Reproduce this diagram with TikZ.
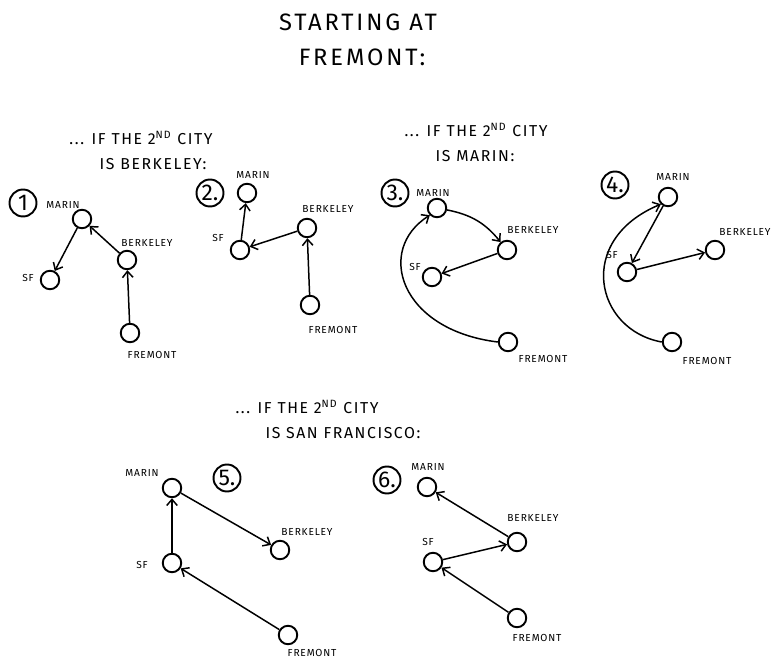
\documentclass[tikz,border=0pt]{standalone}
\usepackage{fontspec}
\setmainfont{Fira Sans}
\usetikzlibrary{arrows.meta}

\begin{document}
\begin{tikzpicture}[x=0.02cm, y=-0.02cm,
  city/.style={draw, circle, line width=1.1pt, minimum size=0.37cm, inner sep=0pt},
  num/.style={draw, circle, line width=1.1pt, minimum size=0.54cm, inner sep=0pt, font=\fontsize{13}{13}\selectfont},
  lab/.style={font=\fontsize{5.8}{6}\selectfont\addfontfeatures{LetterSpace=8}},
  head/.style={font=\fontsize{9}{10}\selectfont\addfontfeatures{LetterSpace=10}},
  title/.style={font=\fontsize{13.5}{14}\selectfont\addfontfeatures{LetterSpace=12}},
  arr/.style={-{Straight Barb[length=3.5pt,width=6pt]}, line width=0.85pt}
]
\useasboundingbox (0,0) rectangle (772,669);

\node[title] (titleA) at (358,22) {STARTING AT};
\node[title] (titleB) at (362,57) {FREMONT:};

% second city berkeley
\node[head] (headAa) at (141,138) {... IF THE 2\textsuperscript{ND} CITY};
\node[head] (headAb) at (153,164) {IS BERKELEY:};

\node[num] (numA) at (23,203) {1};
\node[city] (marinA) at (82,219) {};
\node[city] (berkA) at (127,260) {};
\node[city] (sfA) at (50,280) {};
\node[city] (fremA) at (130,333) {};
\node[lab] (marinAl) at (63,205) {MARIN};
\node[lab] (berkAl) at (147,243) {BERKELEY};
\node[lab] (sfAl) at (28,278) {SF};
\node[lab] (fremAl) at (152,355) {FREMONT};
\draw[arr] (fremA) -- (berkA);
\draw[arr] (berkA) -- (marinA);
\draw[arr] (marinA) -- (sfA);

\node[num] (numB) at (210,193) {2.};
\node[city] (marinB) at (247,193) {};
\node[city] (berkB) at (307,228) {};
\node[city] (sfB) at (240,250) {};
\node[city] (fremB) at (310,305) {};
\node[lab] (marinBl) at (253,175) {MARIN};
\node[lab] (berkBl) at (328,209) {BERKELEY};
\node[lab] (sfBl) at (218,238) {SF};
\node[lab] (fremBl) at (333,330) {FREMONT};
\draw[arr] (fremB) -- (berkB);
\draw[arr] (berkB) -- (sfB);
\draw[arr] (sfB) -- (marinB);

% second city marin
\node[head] (headBa) at (476,130) {... IF THE 2\textsuperscript{ND} CITY};
\node[head] (headBb) at (475,156) {IS MARIN:};

\node[num] (numC) at (395,193) {3.};
\node[city] (marinC) at (437,208) {};
\node[city] (berkC) at (507,250) {};
\node[city] (sfC) at (432,277) {};
\node[city] (fremC) at (508,342) {};
\node[lab] (marinCl) at (433,193) {MARIN};
\node[lab] (berkCl) at (533,230) {BERKELEY};
\node[lab] (sfCl) at (415,267) {SF};
\node[lab] (fremCl) at (543,359) {FREMONT};
\draw[arr] (fremC.west) .. controls (400,330) and (375,250) .. (marinC.south west);
\draw[arr] (marinC) to[bend left=20] (berkC);
\draw[arr] (berkC) -- (sfC);

\node[num] (numD) at (615,185) {4.};
\node[city] (marinD) at (668,197) {};
\node[city] (berkD) at (715,250) {};
\node[city] (sfD) at (627,272) {};
\node[city] (fremD) at (672,342) {};
\node[lab] (marinDl) at (673,177) {MARIN};
\node[lab] (berkDl) at (745,232) {BERKELEY};
\node[lab] (sfDl) at (612,255) {SF};
\node[lab] (fremDl) at (707,361) {FREMONT};
\draw[arr] (fremD.west) .. controls (595,330) and (575,240) .. (marinD.south west);
\draw[arr] (marinD) -- (sfD);
\draw[arr] (sfD) -- (berkD);

% second city san francisco
\node[head] (headCa) at (307,407) {... IF THE 2\textsuperscript{ND} CITY};
\node[head] (headCb) at (343,433) {IS SAN FRANCISCO:};

\node[num] (numE) at (227,478) {5.};
\node[city] (marinE) at (172,488) {};
\node[city] (berkE) at (280,550) {};
\node[city] (sfE) at (172,563) {};
\node[city] (fremE) at (288,635) {};
\node[lab] (marinEl) at (142,473) {MARIN};
\node[lab] (berkEl) at (307,532) {BERKELEY};
\node[lab] (sfEl) at (142,565) {SF};
\node[lab] (fremEl) at (312,653) {FREMONT};
\draw[arr] (fremE) -- (sfE);
\draw[arr] (sfE) -- (marinE);
\draw[arr] (marinE) -- (berkE);

\node[num] (numF) at (387,480) {6.};
\node[city] (marinF) at (427,487) {};
\node[city] (berkF) at (517,542) {};
\node[city] (sfF) at (433,562) {};
\node[city] (fremF) at (517,618) {};
\node[lab] (marinFl) at (428,467) {MARIN};
\node[lab] (berkFl) at (533,518) {BERKELEY};
\node[lab] (sfFl) at (428,542) {SF};
\node[lab] (fremFl) at (537,638) {FREMONT};
\draw[arr] (fremF) -- (sfF);
\draw[arr] (sfF) -- (berkF);
\draw[arr] (berkF) -- (marinF);
\end{tikzpicture}
\end{document}
